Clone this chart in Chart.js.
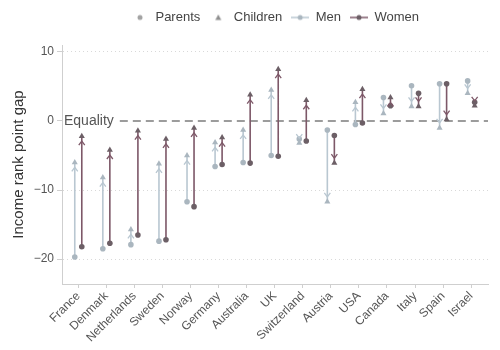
<!DOCTYPE html>
<html>
<head>
<meta charset="utf-8">
<script src="https://cdn.jsdelivr.net/npm/chart.js@4/dist/chart.umd.min.js"></script>
<style>
  html, body { margin: 0; padding: 0; background: #fff; }
  #wrap { width: 500px; height: 350px; }
</style>
</head>
<body>
<div id="wrap"><canvas id="gapChart" width="500" height="350"></canvas></div>
<script>
// Income rank gap, parents -> children, by country and sex

const countries = ['France', 'Denmark', 'Netherlands', 'Sweden', 'Norway', 'Germany', 'Australia', 'UK',
    'Switzerland', 'Austria', 'USA', 'Canada', 'Italy', 'Spain', 'Israel'];
const menParents    = [-19.7, -18.5, -17.9, -17.4, -11.7, -6.6, -6.0, -5.0, -2.6, -1.3, -0.5, 3.4, 5.1, 5.4, 5.8];
const menChildren   = [-6.0, -8.2, -15.7, -6.2, -5.0, -3.1, -1.3, 4.5, -3.2, -11.7, 2.7, 1.1, 2.1, -1.0, 4.0];
const womenParents  = [-18.2, -17.7, -16.5, -17.2, -12.4, -6.3, -6.1, -5.1, -2.9, -2.1, -0.3, 2.2, 4.0, 5.4, 2.7];
const womenChildren = [-2.2, -4.2, -1.4, -2.6, -1.0, -2.4, 3.8, 7.5, 3.0, -6.1, 4.6, 3.4, 2.1, 0.2, 2.2];
const yTicks = [10, 0, -10, -20];

const MEN_LINE = '#b9c7d1';
const MEN_POINT = '#aab6bf';
const WOMEN_LINE = '#7d5868';
const WOMEN_POINT = '#6c5f66';
const SHIFT = 0.125;   // dodge men left, women right

// parent point, child point, gap -> one arrow per country
function buildSeries(parents, children, shift) {
    const out = [];
    countries.forEach((c, i) => {
        out.push({ x: i + shift, y: parents[i] });
        out.push({ x: i + shift, y: children[i] });
        out.push({ x: i + shift, y: null });
    });
    return out;
}

function legendIcon(kind, color, lineColor) {
    const c = document.createElement('canvas');
    c.width = 18;
    c.height = 10;
    const g = c.getContext('2d');
    if (lineColor) {
        g.strokeStyle = lineColor;
        g.lineWidth = 1.5;
        g.beginPath();
        g.moveTo(0, 5);
        g.lineTo(18, 5);
        g.stroke();
    }
    g.fillStyle = color;
    g.beginPath();
    if (kind === 'triangle') {
        g.moveTo(9, 2);
        g.lineTo(12, 7.5);
        g.lineTo(6, 7.5);
        g.closePath();
    } else {
        g.arc(9, 5, 2.5, 0, Math.PI * 2);
    }
    g.fill();
    return c;
}

const legendItems = [
    { text: 'Parents', pointStyle: legendIcon('circle', '#a3a3a3') },
    { text: 'Children', pointStyle: legendIcon('triangle', '#8e8e8e') },
    { text: 'Men', pointStyle: legendIcon('circle', MEN_POINT, MEN_LINE) },
    { text: 'Women', pointStyle: legendIcon('circle', WOMEN_POINT, WOMEN_LINE) }
].map((it, i) => ({ ...it, fontColor: '#444', hidden: false, lineWidth: 0, datasetIndex: i }));

// chevron arrowheads just before each child marker
const arrowPlugin = {
    id: 'arrows',
    afterDatasetsDraw(chart) {
        const ctx = chart.ctx;
        chart.data.datasets.forEach((ds, di) => {
            const meta = chart.getDatasetMeta(di);
            ctx.save();
            ctx.strokeStyle = ds.borderColor;
            ctx.lineWidth = 1.3;
            for (let i = 0; i < countries.length; i++) {
                const p = meta.data[i * 3];
                const k = meta.data[i * 3 + 1];
                const dir = k.y < p.y ? -1 : 1;
                const tipY = k.y - dir * 5;
                ctx.beginPath();
                ctx.moveTo(k.x - 3, tipY - dir * 4);
                ctx.lineTo(k.x, tipY);
                ctx.lineTo(k.x + 3, tipY - dir * 4);
                ctx.stroke();
            }
            ctx.restore();
        });
    }
};

// dashed equality line with its label
const equalityPlugin = {
    id: 'equality',
    beforeDatasetsDraw(chart) {
        const { ctx, chartArea, scales } = chart;
        const y = scales.y.getPixelForValue(0);
        ctx.save();
        ctx.font = '14px "Liberation Sans", Arial, sans-serif';
        ctx.fillStyle = '#555';
        ctx.textBaseline = 'middle';
        ctx.fillText('Equality', chartArea.left + 2, y);
        const start = chartArea.left + 2 + ctx.measureText('Equality').width + 6;
        ctx.strokeStyle = '#9c9c9c';
        ctx.lineWidth = 1.8;
        ctx.setLineDash([8, 5]);
        ctx.beginPath();
        ctx.moveTo(start, y);
        ctx.lineTo(chartArea.right, y);
        ctx.stroke();
        ctx.restore();
    }
};

const legendGap = {
    id: 'legendGap',
    beforeInit(chart) {
        const fit = chart.legend.fit;
        chart.legend.fit = function () {
            fit.call(this);
            this.height += 11;
        };
    }
};

Chart.defaults.font.family = '"Liberation Sans", Arial, sans-serif';
Chart.defaults.color = '#555';

function pointStyleFor(ctx) {
    return ctx.dataIndex % 3 === 0 ? 'circle' : 'triangle';
}
function pointRadiusFor(ctx) {
    return ctx.dataIndex % 3 === 0 ? 2.8 : 3.5;
}

new Chart(document.getElementById('gapChart').getContext('2d'), {
    type: 'scatter',
    data: {
        datasets: [
            {
                label: 'Men',
                data: buildSeries(menParents, menChildren, -SHIFT),
                showLine: true,
                borderColor: MEN_LINE,
                borderWidth: 1.6,
                pointStyle: pointStyleFor,
                pointRadius: pointRadiusFor,
                pointBackgroundColor: MEN_POINT,
                pointBorderWidth: 0
            },
            {
                label: 'Women',
                data: buildSeries(womenParents, womenChildren, SHIFT),
                showLine: true,
                borderColor: WOMEN_LINE,
                borderWidth: 1.6,
                pointStyle: pointStyleFor,
                pointRadius: pointRadiusFor,
                pointBackgroundColor: WOMEN_POINT,
                pointBorderWidth: 0
            }
        ]
    },
    options: {
        responsive: false,
        animation: false,
        events: [],
        layout: { padding: { top: 2, right: 12, left: 0, bottom: 0 } },
        plugins: {
            legend: {
                position: 'top',
                fullSize: false,
                labels: {
                    usePointStyle: true,
                    pointStyleWidth: 18,
                    boxHeight: 10,
                    padding: 9,
                    color: '#444',
                    font: { size: 13 },
                    generateLabels: () => legendItems
                }
            },
            tooltip: { enabled: false }
        },
        scales: {
            x: {
                type: 'linear',
                min: -0.58,
                max: 14.6,
                afterBuildTicks: scale => {
                    scale.ticks = countries.map((c, i) => ({ value: i }));
                },
                afterFit: scale => { scale.height = 66; },
                ticks: {
                    autoSkip: false,
                    minRotation: 45,
                    maxRotation: 45,
                    padding: 1,
                    color: '#555',
                    font: { size: 12 },
                    callback: value => countries[value]
                },
                grid: {
                    drawOnChartArea: false,
                    drawTicks: true,
                    tickLength: 4,
                    tickColor: '#cfcfcf'
                },
                border: { color: '#cfcfcf' }
            },
            y: {
                min: -23.6,
                max: 11.0,
                afterBuildTicks: scale => {
                    scale.ticks = yTicks.map(v => ({ value: v }));
                },
                afterFit: scale => { scale.width = 62; },
                title: {
                    display: true,
                    text: 'Income rank point gap',
                    color: '#333',
                    font: { size: 15 },
                    padding: { top: 10, bottom: 0 }
                },
                ticks: {
                    color: '#555',
                    font: { size: 12 },
                    padding: 3,
                    callback: v => (v < 0 ? '\u2212' + Math.abs(v) : String(v))
                },
                grid: {
                    color: ctx => (ctx.tick && ctx.tick.value === 0 ? 'rgba(0,0,0,0)' : '#d9d9d9'),
                    tickColor: '#cfcfcf',
                    tickLength: 5,
                    tickBorderDash: []
                },
                border: { color: '#cfcfcf', dash: [1, 3] }
            }
        }
    },
    plugins: [equalityPlugin, arrowPlugin, legendGap]
});
</script>
</body>
</html>
